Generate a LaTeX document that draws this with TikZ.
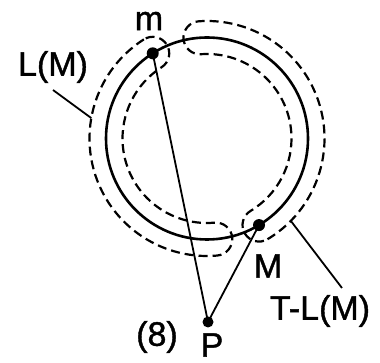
\documentclass[tikz,border=0pt]{standalone}
\usepackage{fontspec}
\setmainfont{Liberation Sans}[FakeBold=1.2]
\usetikzlibrary{calc}
\begin{document}
\begin{tikzpicture}[x=1pt,y=1pt,
  band/.style={line width=2.2pt, dash pattern=on 9pt off 5pt},
  ring/.style={line width=2.6pt},
  seg/.style={line width=1.8pt},
  dotnode/.style={circle, fill=black, inner sep=0pt, minimum size=12pt},
  lbl/.style={font=\fontsize{34}{34}\selectfont, inner sep=0pt}]
\useasboundingbox (0,0) rectangle (380,363);
\coordinate (C) at (207,224.5);
% left band L(M)
\draw[band] ($(C)+(122.5:117.5)$) arc[start angle=122.5, end angle=275, radius=117.5]
  arc[start angle=275, end angle=455, radius=16.5]
  arc[start angle=275, end angle=122.5, radius=84.5]
  arc[start angle=302.5, end angle=482.5, radius=16.5] -- cycle;
% right band T-L(M)
\draw[band] ($(C)+(-59:117.5)$) arc[start angle=-59, end angle=94, radius=117.5]
  arc[start angle=94, end angle=274, radius=16.5]
  arc[start angle=94, end angle=-59, radius=84.5]
  arc[start angle=121, end angle=301, radius=16.5] -- cycle;
% main circle
\draw[ring] (C) circle[radius=101];
% points
\node[dotnode] (m) at ($(C)+(122.5:101)$) {};
\node[dotnode] (M) at ($(C)+(-59:101)$) {};
\node[dotnode, minimum size=11pt] (P) at (208,41) {};
\draw[seg] (m.center) -- (P.center);
\draw[seg] (M.center) -- (P.center);
% labels
\node[lbl] (lm) at (149,342) {m};
\node[lbl] (lLM) at (53,296) {L(M)};
\node[lbl] (lM) at (268,97) {M};
\node[lbl] (lTLM) at (320,52) {T-L(M)};
\node[lbl] (lP) at (212,18) {P};
\node[lbl] (l8) at (157,26) {(8)};
% leaders
\coordinate (aL) at (53,273);
\coordinate (bL) at ($(C)+(170:117.5)$);
\draw[seg] (aL) -- (bL);
\coordinate (aT) at (342,75);
\coordinate (bT) at ($(C)+(-44.5:117.5)$);
\draw[seg] (aT) -- (bT);
\end{tikzpicture}
\end{document}
